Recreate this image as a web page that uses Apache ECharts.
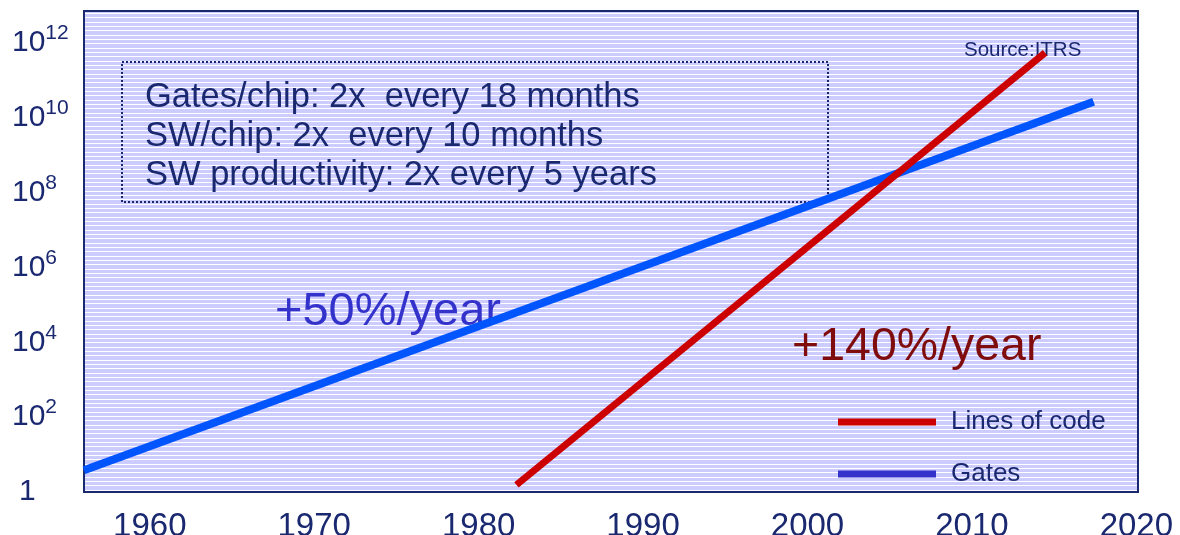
<!DOCTYPE html>
<html>
<head>
<meta charset="utf-8">
<script src="https://cdn.jsdelivr.net/npm/echarts@6/dist/echarts.min.js"></script>
<style>
html,body{margin:0;padding:0;background:#fff;}
#chart{width:1180px;height:535px;}
</style>
</head>
<body>
<div id="chart"></div>
<script>
// ---- data ----
const xTickYears = [1960, 1970, 1980, 1990, 2000, 2010, 2020];
const yTickExponents = [0, 2, 4, 6, 8, 10, 12];
const gatesYears = [1956, 2017.4];
const gatesValues = [3.8, 2.7e10];
const codeYears = [1982.3, 2014.45];
const codeValues = [1.55, 5.5e11];
const seriesNames = ['Lines of code', 'Gates'];
const boxLines = [
  'Gates/chip: 2x  every 18 months',
  'SW/chip: 2x  every 10 months',
  'SW productivity: 2x every 5 years'
];
const gatesGrowthLabel = '+50%/year';
const codeGrowthLabel = '+140%/year';
const sourceLabel = 'Source:ITRS';

const FONT = '"Liberation Sans", Arial, Helvetica, sans-serif';
const NAVY = '#1a2870';

// striped background pattern
const pat = document.createElement('canvas');
pat.width = 4; pat.height = 13;
const pctx = pat.getContext('2d');
pctx.fillStyle = '#ccccff';
pctx.fillRect(0, 0, 4, 13);
pctx.fillStyle = '#ffffff';
[0, 4, 9].forEach(r => pctx.fillRect(0, r, 4, 1));

const chart = echarts.init(document.getElementById('chart'), null, {renderer: 'canvas'});

const option = {
  animation: false,
  backgroundColor: '#ffffff',
  grid: {
    show: true,
    left: 84, right: 42, top: 11, bottom: 43,
    containLabel: false,
    outerBoundsMode: 'none',
    backgroundColor: {image: pat, repeat: 'repeat'},
    borderColor: NAVY,
    borderWidth: 2
  },
  xAxis: {
    type: 'value',
    min: 1956,
    max: 2020.1,
    splitNumber: 6,
    axisLine: {show: false},
    axisTick: {show: false},
    splitLine: {show: false},
    axisLabel: {
      margin: 18,
      fontSize: 33,
      fontFamily: FONT,
      color: NAVY,
      showMinLabel: true,
      showMaxLabel: true,
      formatter: function (v) {
        const r = Math.round(v);
        return (Math.abs(v - r) < 1e-6 && xTickYears.indexOf(r) >= 0) ? String(r) : '';
      }
    }
  },
  yAxis: {
    type: 'log',
    logBase: 100,
    min: 1,
    max: 7.2e12,
    axisLine: {show: false},
    axisTick: {show: false},
    splitLine: {show: false},
    axisLabel: {
      margin: 72,
      align: 'left',
      color: NAVY,
      fontFamily: FONT,
      formatter: function (v) {
        const e = Math.log10(v);
        const r = Math.round(e);
        if (Math.abs(e - r) > 1e-6 || yTickExponents.indexOf(r) < 0) return '';
        if (r === 0) return '{one|1}';
        return '{b|10}{s|' + r + '}';
      },
      rich: {
        b: {fontSize: 30, lineHeight: 40, fontFamily: FONT, color: NAVY},
        s: {fontSize: 21, lineHeight: 21, verticalAlign: 'top', fontFamily: FONT, color: NAVY},
        one: {fontSize: 30, lineHeight: 40, fontFamily: FONT, color: NAVY, padding: [0, 0, 0, 7]}
      }
    }
  },
  legend: {
    orient: 'vertical',
    left: 833,
    top: 404,
    itemWidth: 98,
    itemHeight: 7,
    itemGap: 26,
    icon: 'rect',
    selectedMode: false,
    textStyle: {fontSize: 26, color: NAVY, fontFamily: FONT, padding: [0, 0, 0, 10]},
    data: [
      {name: seriesNames[0], itemStyle: {color: '#cc0000'}},
      {name: seriesNames[1], itemStyle: {color: '#3333cc'}}
    ]
  },
  series: [
    {
      name: seriesNames[1],
      type: 'line',
      symbol: 'none',
      data: gatesYears.map((y, i) => [y, gatesValues[i]]),
      lineStyle: {color: '#0055ff', width: 8, cap: 'butt'},
      itemStyle: {color: '#0055ff'},
      z: 2
    },
    {
      name: seriesNames[0],
      type: 'line',
      symbol: 'none',
      data: codeYears.map((y, i) => [y, codeValues[i]]),
      lineStyle: {color: '#cc0000', width: 7, cap: 'butt'},
      itemStyle: {color: '#cc0000'},
      z: 3
    }
  ],
  graphic: [
    {
      type: 'rect', z: 1,
      shape: {x: 122, y: 62, width: 706, height: 140},
      style: {fill: null, stroke: NAVY, lineWidth: 2, lineDash: [2, 2]}
    },
    ...boxLines.map((t, i) => ({
      type: 'text', z: 1,
      x: 145, y: 97 + i * 39,
      style: {text: t, font: '34.5px ' + FONT, fill: NAVY, verticalAlign: 'middle', align: 'left'}
    })),
    {
      type: 'text', z: 1, x: 275, y: 312,
      style: {text: gatesGrowthLabel, font: '47px ' + FONT, fill: '#3333cc', verticalAlign: 'middle', align: 'left'}
    },
    {
      type: 'text', z: 1, x: 792, y: 347,
      style: {text: codeGrowthLabel, font: '46.5px ' + FONT, fill: '#800d0d', verticalAlign: 'middle', align: 'left'}
    },
    {
      type: 'text', z: 1, x: 964, y: 50,
      style: {text: sourceLabel, font: '20.5px ' + FONT, fill: NAVY, verticalAlign: 'middle', align: 'left'}
    }
  ]
};
chart.setOption(option);
</script>
</body>
</html>
